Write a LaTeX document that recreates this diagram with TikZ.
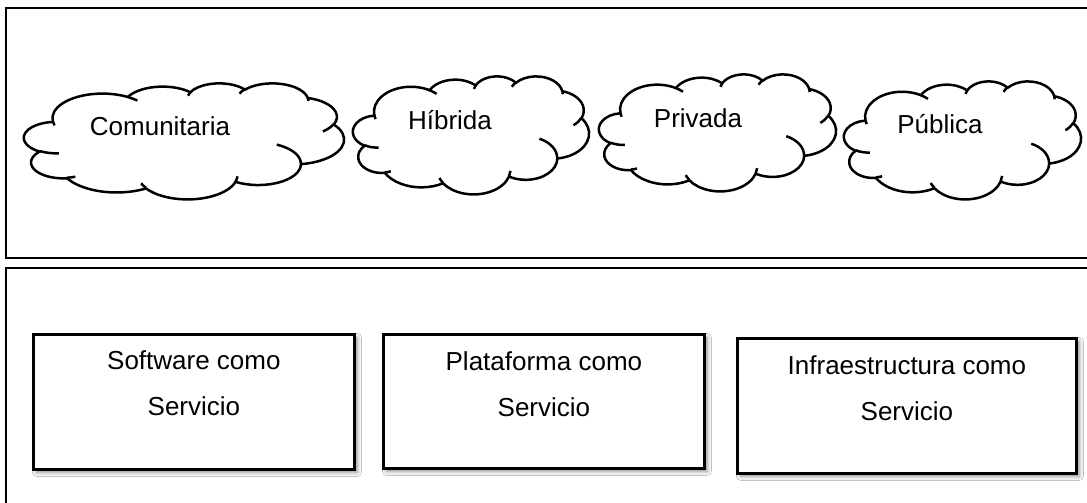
\documentclass[tikz,border=0pt]{standalone}
\usepackage{fontspec}
\setmainfont{Liberation Sans}
\usetikzlibrary{positioning, shadows.blur}

\tikzset{
    warc/.style n args={4}{insert path={
        arc[x radius=#1pt, y radius=#2pt, start angle={pang(#1,#2,#3)},
            end angle={pang(#1,#2,#3+#4)+360*(pang(#1,#2,#3+#4)<pang(#1,#2,#3))}]}},
    panel/.style={draw, line width=2.9pt},
    cloudline/.style={draw, line width=2.5pt, line join=round},
    cloudtext/.style={font=\fontsize{26}{31}\selectfont, inner sep=0pt, anchor=base},
    servicebox/.style={draw, line width=2.8pt, fill=white, inner sep=0pt, anchor=north west,
        blur shadow={shadow xshift=3pt, shadow yshift=-3pt, shadow blur radius=4pt, shadow opacity=45}},
    boxtext/.style={font=\fontsize{26}{46}\selectfont, align=center, inner sep=0pt},
}

% cloud outline: left, top, width, height
\newcommand{\nube}[4]{%
    \begin{scope}[shift={(#1pt,-#2pt)}, x=1pt, y=1pt, xscale={#3/432}, yscale={-#4/432}]
        \draw[cloudline, fill=white] (39.00,143.70)
            [warc={67.53}{91.90}{-190.48748}{123.78053}]
            [warc={53.33}{72.67}{-144.10238}{89.94523}]
            [warc={43.65}{59.45}{-145.80792}{99.72302}]
            [warc={48.57}{65.95}{-130.98607}{117.24173}]
            [warc={53.33}{72.73}{-78.70888}{109.02692}]
            [warc={67.75}{92.20}{-46.26725}{130.269}]
            [warc={57.85}{78.67}{0.62502}{114.03333}]
            [warc={67.52}{92.15}{22.4516}{115.17255}]
            [warc={77.20}{105.43}{66.24263}{75.71102}]
            [warc={43.60}{59.18}{-274.94208}{146.73557}]
            [warc={43.45}{59.45}{-246.8285}{152.51885}] -- cycle;
        \draw[cloudline]
            (46.93,261.77) [warc={43.45}{59.45}{86.742}{26.4295}]
            (69.28,348.99) [warc={43.60}{59.18}{73.61047}{11.44747}]
            (164.78,390.90) [warc={67.52}{92.15}{137.62415}{14.0811}]
            (288.27,347.51) [warc={67.52}{92.15}{6.45327}{15.99835}]
            (341.29,229.54) [warc={57.85}{78.67}{-70.29235}{70.91737}]
            (417.98,153.54) [warc={53.33}{72.73}{30.31803}{27.7515}]
            (383.24,54.26) [warc={48.57}{65.95}{-13.74433}{14.8589}]
            (290.78,39.52) [warc={48.57}{65.95}{-149.18145}{18.19537}]
            (221.41,47.20) [warc={43.65}{59.45}{-163.49427}{17.68635}]
            (140.00,51.92) [warc={67.53}{91.90}{-66.70695}{12.31935}]
            (41.27,157.89) [warc={67.53}{91.90}{157.65435}{11.85817}];
    \end{scope}}

\begin{document}
\begin{tikzpicture}[x=1pt, y=-1pt,
    declare function={pang(\w,\h,\a)=atan2(\w*sin(\a),\h*cos(\a));}]
    \clip (0,0) rectangle (1087,503);
    \fill[white] (0,0) rectangle (1087,503);

    % deployment models
    \draw[panel] (6,8) rectangle (1100,258);
    \nube{24}{83}{320}{116}
    \nube{353}{76}{236}{118}
    \nube{599}{74}{237}{117}
    \nube{844}{81}{237}{118}
    \node[cloudtext] (comunitaria) at (160,135) {Comunitaria};
    \node[cloudtext] (hibrida) at (450,129) {Híbrida};
    \node[cloudtext] (privada) at (698,127) {Privada};
    \node[cloudtext] (publica) at (940,133) {Pública};

    % service models
    \draw[panel] (6,268) rectangle (1100,530);
    \node[servicebox, minimum width=321, minimum height=135] (saas) at (32,333) {};
    \node[servicebox, minimum width=321, minimum height=134] (paas) at (382,333) {};
    \node[servicebox, minimum width=339, minimum height=135] (iaas) at (736,337) {};
    \node[boxtext, below=17pt of saas.north] (saastext) {Software como\\Servicio};
    \node[boxtext, below=18pt of paas.north] (paastext) {Plataforma como\\Servicio};
    \node[boxtext, below=18pt of iaas.north] (iaastext) {Infraestructura como\\Servicio};
\end{tikzpicture}
\end{document}
